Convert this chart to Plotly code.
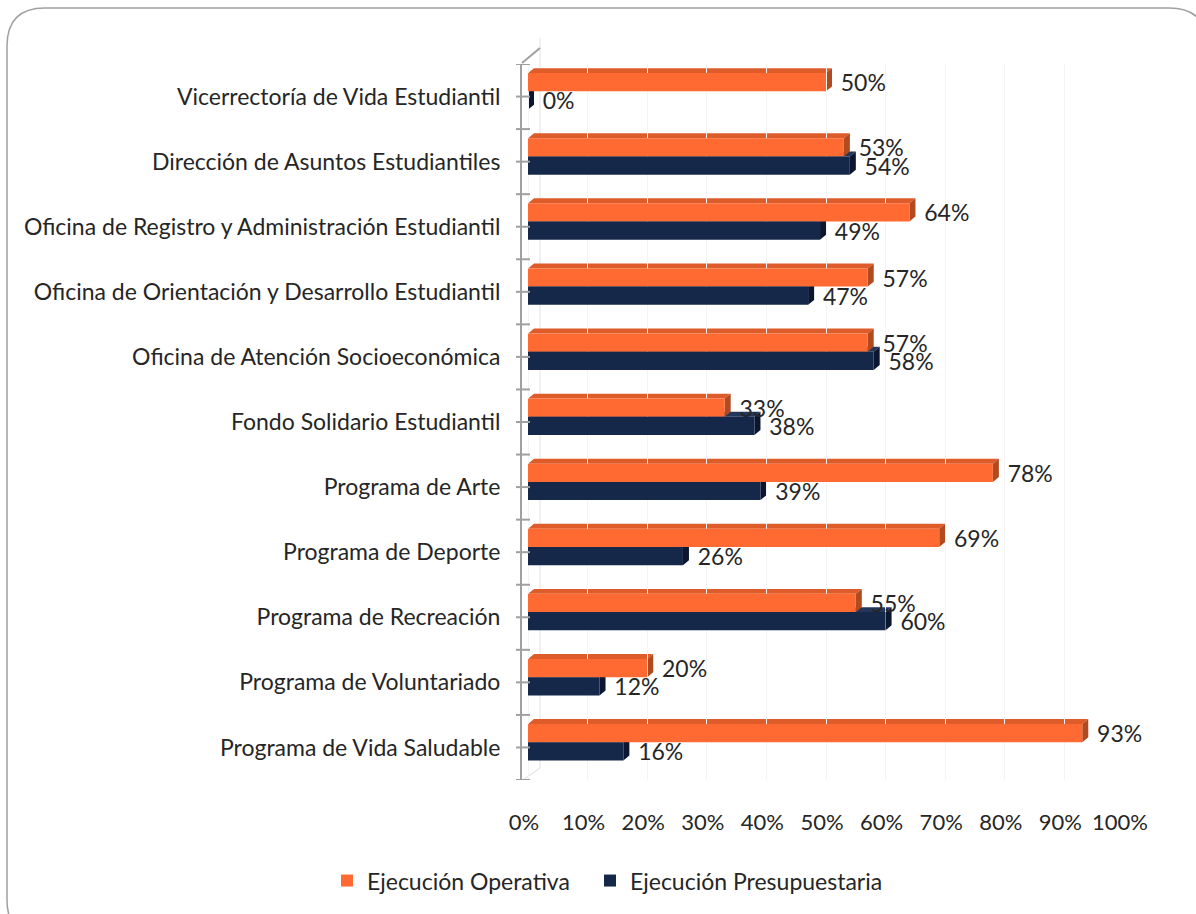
import plotly.graph_objects as go

categories = [
    "Vicerrectoría de Vida Estudiantil",
    "Dirección de Asuntos Estudiantiles",
    "Oficina de Registro y Administración Estudiantil",
    "Oficina de Orientación y Desarrollo Estudiantil",
    "Oficina de Atención Socioeconómica",
    "Fondo Solidario Estudiantil",
    "Programa de Arte",
    "Programa de Deporte",
    "Programa de Recreación",
    "Programa de Voluntariado",
    "Programa de Vida Saludable",
]
operativa = [0.50, 0.53, 0.64, 0.57, 0.57, 0.33, 0.78, 0.69, 0.55, 0.20, 0.93]
presupuestaria = [0.00, 0.54, 0.49, 0.47, 0.58, 0.38, 0.39, 0.26, 0.60, 0.12, 0.16]
tick_vals = [0, 0.1, 0.2, 0.3, 0.4, 0.5, 0.6, 0.7, 0.8, 0.9, 1.0]
tick_text = ["0%", "10%", "20%", "30%", "40%", "50%", "60%", "70%", "80%", "90%", "100%"]

W, H = 1196, 914
ML, MR, MT, MB = 522, 72, 64, 124
X0 = -6 / 596
XR = [X0, 1.0]
plot_w = W - ML - MR
plot_h = H - MT - MB
n = len(categories)
px_x = plot_w / (XR[1] - XR[0])
px_y = plot_h / n
DX = 6 / px_x
DY = 5 / px_y
BW = 0.28
OFF_O = -0.36
OFF_N = -0.08

ORANGE = "#FF6A33"
ORANGE_TOP = "#DE5B2A"
ORANGE_SIDE = "#B24A20"
NAVY = "#16284A"
NAVY_TOP = "#24365A"
NAVY_SIDE = "#0B1630"
FONT = "Lato"
TXT = "#262626"
GREY = "#A0A0A0"

ypos = list(range(n))
fig = go.Figure()
fig.add_trace(go.Bar(
    name="Ejecución Operativa", y=ypos, x=operativa,
    orientation="h", marker=dict(color=ORANGE, line=dict(width=0)),
    width=BW, offset=OFF_O, legend="legend",
    text=["  " + f"{v:.0%}" for v in operativa], textposition="outside",
    constraintext="none",
    textfont=dict(size=23, color=TXT, family=FONT), cliponaxis=False,
))
fig.add_trace(go.Bar(
    name="Ejecución Presupuestaria", y=ypos, x=presupuestaria,
    orientation="h", marker=dict(color=NAVY, line=dict(width=0)),
    width=BW, offset=OFF_N, legend="legend2",
    text=["  " + f"{v:.0%}" for v in presupuestaria], textposition="outside",
    constraintext="none",
    textfont=dict(size=23, color=TXT, family=FONT), cliponaxis=False,
))

shapes = []

def faces(v, yt, yb, top_col, side_col):
    top = f"M 0,{yt} L {v},{yt} L {v+DX},{yt-DY} L {DX},{yt-DY} Z"
    side = f"M {v},{yt} L {v},{yb} L {v+DX},{yb-DY} L {v+DX},{yt-DY} Z"
    return [dict(type="path", xref="x", yref="y", path=top,
                 fillcolor=top_col, line=dict(width=0), layer="below"),
            dict(type="path", xref="x", yref="y", path=side,
                 fillcolor=side_col, line=dict(width=0), layer="below")]

for i, v in enumerate(presupuestaria):
    shapes += faces(v, i + OFF_N, i + OFF_N + BW, NAVY_TOP, NAVY_SIDE)
for i, v in enumerate(operativa):
    shapes += faces(v, i + OFF_O, i + OFF_O + BW, ORANGE_TOP, ORANGE_SIDE)

def pix(path, xa, ya, color, width, layer="above"):
    return dict(type="path", xref="paper", yref="paper", xsizemode="pixel", ysizemode="pixel",
                xanchor=xa, yanchor=ya, path=path, line=dict(color=color, width=width), layer=layer)

# back wall edge lines (3D look)
shapes.append(pix("M 0,1 L 18,16", 0, 1, GREY, 2))
shapes.append(pix("M 1,0 L 18,12", 0, 0, "#D9D9D9", 1, "below"))
shapes.append(pix(f"M 18,12 L 18,{plot_h + 16}", 0, 0, "#E3E3E3", 1, "below"))

# crossing ticks on category axis (centres and boundaries)
for k in range(2 * n + 1):
    yv = -0.5 + 0.5 * k
    shapes.append(dict(type="line", xref="paper", yref="y", xsizemode="pixel",
                       xanchor=0, x0=-6, x1=8, y0=yv, y1=yv,
                       line=dict(color=GREY, width=2)))

# rounded frame
r = 38
fx0, fx1 = 7 - ML, 1207 - ML
fy0, fy1 = MT - 8, MT - 938
frame = (f"M {fx0 + r},{fy1} Q {fx0},{fy1} {fx0},{fy1 + r} L {fx0},{fy0 - r} "
         f"Q {fx0},{fy0} {fx0 + r},{fy0} "
         f"L {fx1 - r},{fy0} Q {fx1},{fy0} {fx1},{fy0 - r} L {fx1},{fy1 + r}")
shapes.append(pix(frame, 0, 1, "#A0A0A0", 1.5))

legend_cy = -(892 - (MT + plot_h)) / plot_h
leg_common = dict(orientation="h", xanchor="left", y=legend_cy, yanchor="middle",
                  font=dict(size=23, color=TXT, family=FONT), itemwidth=30,
                  bgcolor="rgba(0,0,0,0)")

fig.update_layout(
    width=W, height=H,
    margin=dict(l=ML, r=MR, t=MT, b=MB),
    paper_bgcolor="white", plot_bgcolor="white",
    barmode="overlay",
    showlegend=True,
    legend=dict(x=(327 - ML) / plot_w, **leg_common),
    legend2=dict(x=(590 - ML) / plot_w, **leg_common),
    font=dict(family=FONT, color=TXT),
    shapes=shapes,
    xaxis=dict(range=XR, tickvals=tick_vals, ticktext=tick_text, showgrid=True,
               gridcolor="#F4F4F4", zeroline=False, showline=False,
               tickfont=dict(size=22, color=TXT, family=FONT), ticks="",
               ticklabelstandoff=27, ticklabelshift=-4),
    yaxis=dict(tickvals=ypos, ticktext=categories,
               range=[n - 0.5, -0.5], showgrid=False, zeroline=False,
               showline=True, linecolor=GREY, linewidth=2, ticks="",
               tickfont=dict(size=23, color=TXT, family=FONT), ticklabelstandoff=15),
)
fig.write_html("out.html", post_script="document.body.style.margin='0';",
               config={"displayModeBar": False})
